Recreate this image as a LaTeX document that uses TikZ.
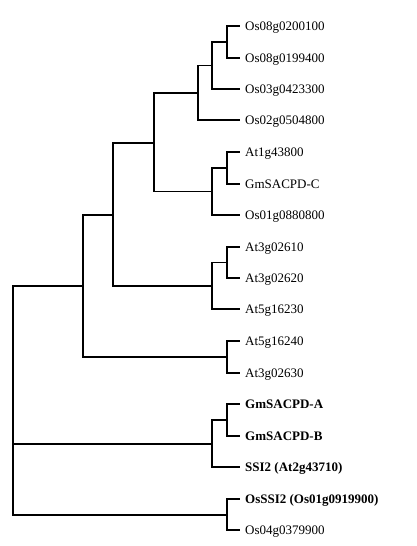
\documentclass[tikz,border=0pt]{standalone}
\usepackage{fontspec}
\setmainfont{Liberation Serif}
\usetikzlibrary{positioning}

\begin{document}
\begin{tikzpicture}[
  x=1pt, y=-1pt,
  leaf/.style={anchor=west, inner xsep=5pt, inner ysep=0pt,
               text height=9pt, text depth=1pt,
               font=\fontsize{13}{15}\selectfont},
  bleaf/.style={leaf, font=\fontsize{13}{15}\selectfont\bfseries},
  branch/.style={draw, line width=1.2pt, line join=miter}
]
\useasboundingbox (0,0) rectangle (417,546);
% leaves
\node[leaf]  (os08a) at (240,26)  {Os08g0200100};
\node[leaf]  (os08b) at (240,58)  {Os08g0199400};
\node[leaf]  (os03)  at (240,89)  {Os03g0423300};
\node[leaf]  (os02)  at (240,120) {Os02g0504800};
\node[leaf]  (at1)   at (240,152) {At1g43800};
\node[leaf]  (gmc)   at (240,184) {GmSACPD-C};
\node[leaf]  (os01)  at (240,215) {Os01g0880800};
\node[leaf]  (at10)  at (240,247) {At3g02610};
\node[leaf]  (at20)  at (240,278) {At3g02620};
\node[leaf]  (at30)  at (240,309) {At5g16230};
\node[leaf]  (at40)  at (240,341) {At5g16240};
\node[leaf]  (at63)  at (240,373) {At3g02630};
\node[bleaf] (gma)   at (240,404) {GmSACPD-A};
\node[bleaf] (gmb)   at (240,436) {GmSACPD-B};
\node[bleaf] (ssi)   at (240,467) {SSI2 (At2g43710)};
\node[bleaf] (osssi) at (240,499) {OsSSI2 (Os01g0919900)};
\node[leaf]  (os04)  at (240,530) {Os04g0379900};
% internal nodes
\coordinate (n1)   at (227,42);
\coordinate (n2)   at (212,65.5);
\coordinate (n3)   at (198,93);
\coordinate (n4)   at (227,168);
\coordinate (n5)   at (212,191.5);
\coordinate (n6)   at (154,143);
\coordinate (n7)   at (227,262.5);
\coordinate (n8)   at (212,286);
\coordinate (n9)   at (113,215);
\coordinate (n10)  at (227,357);
\coordinate (n11)  at (83,286);
\coordinate (n12)  at (227,420);
\coordinate (n13)  at (212,444);
\coordinate (n14)  at (227,515);
\coordinate (root) at (13,400);
% branches
\draw[branch] (n1) |- (os08a.west);
\draw[branch] (n1) |- (os08b.west);
\draw[branch] (n2) |- (n1);
\draw[branch] (n2) |- (os03.west);
\draw[branch] (n3) |- (n2);
\draw[branch] (n3) |- (os02.west);
\draw[branch] (n4) |- (at1.west);
\draw[branch] (n4) |- (gmc.west);
\draw[branch] (n5) |- (n4);
\draw[branch] (n5) |- (os01.west);
\draw[branch] (n6) |- (n3);
\draw[branch] (n6) |- (n5);
\draw[branch] (n7) |- (at10.west);
\draw[branch] (n7) |- (at20.west);
\draw[branch] (n8) |- (n7);
\draw[branch] (n8) |- (at30.west);
\draw[branch] (n9) |- (n6);
\draw[branch] (n9) |- (n8);
\draw[branch] (n10) |- (at40.west);
\draw[branch] (n10) |- (at63.west);
\draw[branch] (n11) |- (n9);
\draw[branch] (n11) |- (n10);
\draw[branch] (n12) |- (gma.west);
\draw[branch] (n12) |- (gmb.west);
\draw[branch] (n13) |- (n12);
\draw[branch] (n13) |- (ssi.west);
\draw[branch] (n14) |- (osssi.west);
\draw[branch] (n14) |- (os04.west);
\draw[branch] (root) |- (n11);
\draw[branch] (root) |- (n13);
\draw[branch] (root) |- (n14);
\end{tikzpicture}
\end{document}
